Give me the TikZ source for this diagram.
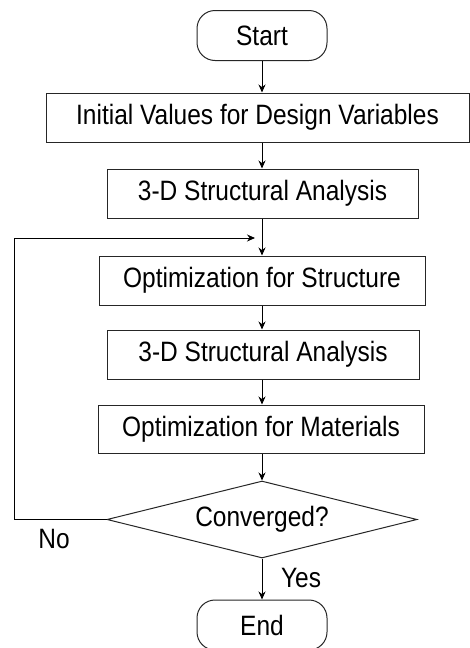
\documentclass[tikz,border=0pt]{standalone}
\usepackage{fontspec}
\setmainfont[FakeStretch=0.875]{Liberation Sans}
\usetikzlibrary{shapes.geometric,arrows.meta}
\begin{document}
\begin{tikzpicture}[x=1pt,y=-1pt,
  every node/.style={font=\fontsize{28}{32}\selectfont, text=black},
  box/.style={draw=black!85, line width=1pt, rectangle, inner sep=0pt},
  term/.style={draw=black!85, line width=1pt, rectangle, rounded corners=18pt, inner sep=0pt, minimum width=130pt, minimum height=50pt},
  decide/.style={draw=black!85, line width=1pt, diamond, shape aspect=4, inner sep=0pt, minimum width=310pt, minimum height=77pt},
  arr/.style={draw=black, line width=0.9pt, -{Stealth[length=8pt,width=7pt]}},
  lbl/.style={inner sep=0pt}]
\useasboundingbox (0,0) rectangle (470,648);
\node[term] (start) at (262,35.5) {Start};
\node[box, minimum width=423pt, minimum height=49pt] (init) at (257.5,117.5) {Initial Values for Design Variables};
\node[box, minimum width=311pt, minimum height=49pt] (a1) at (262.5,193.5) {3-D Structural Analysis};
\node[box, minimum width=326pt, minimum height=49pt] (os) at (262,280.5) {Optimization for Structure};
\node[box, minimum width=312pt, minimum height=49pt] (a2) at (263,354.5) {3-D Structural Analysis};
\node[box, minimum width=326pt, minimum height=48pt] (om) at (261,429) {Optimization for Materials};
\node[decide] (dia) at (262,519.5) {Converged?};
\node[term] (end) at (262,625) {End};
\node[lbl] (no) at (54,539) {No};
\node[lbl] (yes) at (301,578) {Yes};
\coordinate (fbin) at (255,238);
\coordinate (corner) at (14,519.5);
\draw[arr] (start.south) -- (start.south |- init.north);
\draw[arr] (start.south |- init.south) -- (start.south |- a1.north);
\draw[arr] (start.south |- a1.south) -- (start.south |- os.north);
\draw[arr] (start.south |- os.south) -- (start.south |- a2.north);
\draw[arr] (start.south |- a2.south) -- (start.south |- om.north);
\draw[arr] (start.south |- om.south) -- (dia.north);
\draw[arr] (dia.south) -- (end.north);
\draw[arr] (dia.west) -- (corner) |- (fbin);
\end{tikzpicture}
\end{document}
